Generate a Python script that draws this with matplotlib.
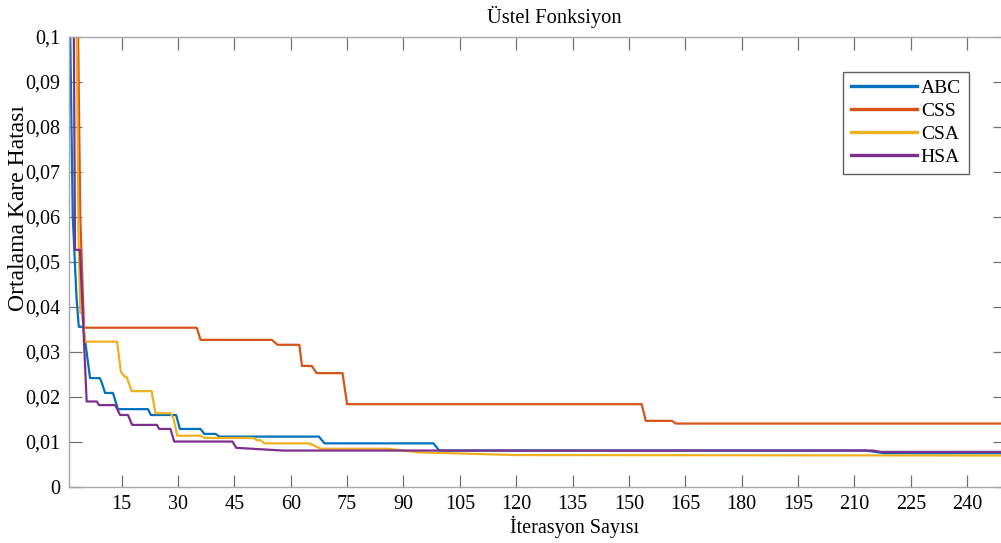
import matplotlib.pyplot as plt

plt.rcParams['font.family'] = ['Liberation Serif', 'DejaVu Serif']

# breakpoints (iteration, error)
abc_x = [1, 2, 3, 3.6, 4.8, 6.6, 9.2, 9.8, 10.6, 12.7, 14, 22, 22.8, 29.5, 30.5, 36, 37, 40, 41, 67.5, 69, 98, 99.5, 213, 218, 250]
abc_y = [0.12, 0.06, 0.042, 0.0356, 0.0356, 0.0242, 0.0242, 0.023, 0.0209, 0.0209, 0.0173, 0.0173, 0.016, 0.016, 0.0129, 0.0129, 0.0118, 0.0118, 0.0112, 0.0112, 0.0097, 0.0097, 0.0081, 0.0081, 0.0075, 0.0075]

css_x = [1, 3, 4, 5, 35, 36, 55, 56.5, 62.3, 63, 65.6, 66.9, 73.8, 75, 153.4, 154.5, 161.4, 162.5, 250]
css_y = [0.3, 0.13, 0.06, 0.0354, 0.0354, 0.0327, 0.0327, 0.0316, 0.0316, 0.0269, 0.0269, 0.0253, 0.0253, 0.0184, 0.0184, 0.0147, 0.0147, 0.0141, 0.0141]

csa_x = [1, 3, 3.5, 4, 4.5, 5.3, 13.8, 14.8, 15.8, 16.3, 17.7, 23, 24, 28, 28.8, 29.8, 36, 37, 50, 51, 52, 53, 65, 68, 86, 94, 120, 250]
csa_y = [0.3, 0.11, 0.057, 0.0387, 0.0387, 0.0323, 0.0323, 0.0256, 0.0245, 0.0245, 0.0213, 0.0213, 0.0164, 0.0164, 0.0153, 0.0114, 0.0114, 0.0109, 0.0109, 0.0104, 0.0104, 0.0097, 0.0097, 0.0085, 0.0085, 0.0077, 0.0071, 0.0070]

hsa_x = [1, 2.3, 2.6, 3.9, 5.7, 8.4, 9, 13.3, 14.6, 16.7, 17.8, 24.4, 25, 28, 29, 44.5, 45.5, 58, 215, 217, 250]
hsa_y = [0.25, 0.1, 0.0527, 0.0527, 0.019, 0.019, 0.0182, 0.0182, 0.016, 0.016, 0.0138, 0.0138, 0.0129, 0.0129, 0.0101, 0.0101, 0.0087, 0.0081, 0.0081, 0.0078, 0.0078]

xticks = list(range(15, 241, 15))
yticks = [i / 100 for i in range(11)]
ytick_labels = ['0'] + ['0,%02d' % i for i in range(1, 10)] + ['0,1']

fig = plt.figure(figsize=(10.01, 5.43), dpi=100)
ax = fig.add_axes([69 / 1001, 1 - 487 / 543, 935.7 / 1001, 450 / 543])

ax.plot(abc_x, abc_y, color='#0072BD', lw=1.6, label='ABC')
ax.plot(css_x, css_y, color='#D95319', lw=1.6, label='CSS')
ax.plot(csa_x, csa_y, color='#EDB120', lw=1.6, label='CSA')
ax.plot(hsa_x, hsa_y, color='#7E2F8E', lw=1.6, label='HSA')

ax.set_xlim(1, 250)
ax.set_ylim(0, 0.1)
ax.set_xticks(xticks)
ax.set_yticks(yticks)
ax.set_yticklabels(ytick_labels)
ax.tick_params(direction='in', length=9, width=0.9, color='#707070',
               top=True, right=True, labelsize=14.5, pad=6)
for s in ax.spines.values():
    s.set_color('#a8a8a8')
    s.set_linewidth(1.0)

ax.set_title('Üstel Fonksiyon', fontsize=14.8, pad=10, x=0.519)
ax.set_xlabel('İterasyon Sayısı', fontsize=14.5)
ax.xaxis.set_label_coords(0.54, -0.064)
ax.set_ylabel('Ortalama Kare Hatası', fontsize=17)
ax.yaxis.set_label_coords(-0.043, 0.62)

leg = ax.legend(loc='upper left', bbox_to_anchor=(843 / 1001, 1 - 71.7 / 543),
                bbox_transform=fig.transFigure, borderaxespad=0, fontsize=14,
                handlelength=3.4, labelspacing=0.28, fancybox=False,
                framealpha=1, edgecolor='#606060', handletextpad=0.2,
                borderpad=0.4)
for line in leg.get_lines():
    line.set_linewidth(2.4)

fig.savefig('out.png', dpi=100)
